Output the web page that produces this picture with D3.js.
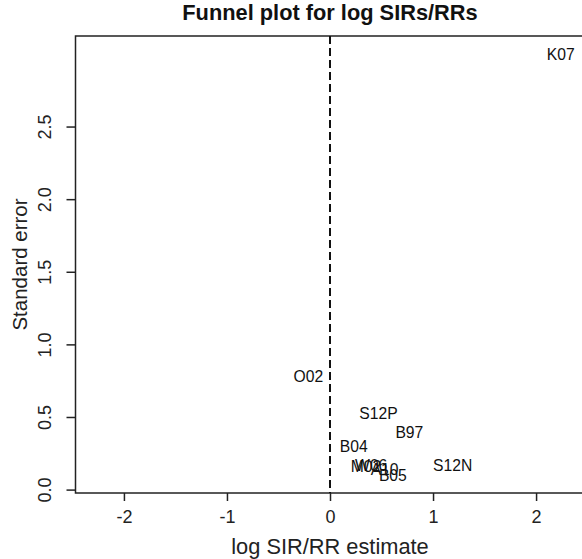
<!DOCTYPE html>
<html>
<head>
<meta charset="utf-8">
<script src="https://cdn.jsdelivr.net/npm/d3@7"></script>
<style>
  html, body { margin: 0; padding: 0; background: #fff; }
  svg { display: block; font-family: "Liberation Sans", Arial, Helvetica, sans-serif; }
</style>
</head>
<body>
<svg id="chart" width="582" height="559"></svg>
<script>
// Study labels with their log SIR/RR estimates and standard errors
const studies   = ["K07", "O02", "S12P", "B97", "B04", "S12N", "M02", "W06", "A10", "B05"];
const estimates = [2.24, -0.21, 0.47, 0.77, 0.23, 1.19, 0.35, 0.40, 0.53, 0.61];
const stdErrors = [3.00, 0.78, 0.53, 0.40, 0.30, 0.17, 0.16, 0.17, 0.14, 0.10];

const xTicks = [-2, -1, 0, 1, 2];
const yTicks = [0, 0.5, 1.0, 1.5, 2.0, 2.5];

const svg = d3.select("#chart");
const margin = { left: 75.5, top: 36, right: -2.5, bottom: 66 };
const W = 582, H = 559;
const x0 = margin.left, x1 = W - margin.right;
const y0 = margin.top, y1 = H - margin.bottom;

const x = d3.scaleLinear().domain([-2.47, 2.47]).range([x0, x1]);
const y = d3.scaleLinear().domain([-0.02, 3.127]).range([y1, y0]);

const data = studies.map((s, i) => ({ label: s, est: estimates[i], se: stdErrors[i] }));

// Plot frame
svg.append("rect")
  .attr("x", x0).attr("y", y0)
  .attr("width", x1 - x0).attr("height", y1 - y0)
  .attr("fill", "none").attr("stroke", "#222").attr("stroke-width", 1.5);

// Reference line at zero effect
svg.append("line")
  .attr("x1", x(0)).attr("x2", x(0))
  .attr("y1", y0).attr("y2", y1)
  .attr("stroke", "#111").attr("stroke-width", 2)
  .attr("stroke-dasharray", "8,4");

// Bottom axis
const xAxis = d3.axisBottom(x).tickValues(xTicks).tickSize(8).tickSizeOuter(0)
  .tickFormat(d3.format("d")).tickPadding(9);
const gx = svg.append("g").attr("transform", `translate(0,${y1})`).call(xAxis);
gx.select(".domain").remove();
gx.selectAll(".tick line").attr("stroke", "#222").attr("stroke-width", 1.5);
gx.selectAll(".tick text").attr("font-size", 18).attr("fill", "#222")
  .attr("font-family", "\"Liberation Sans\", Arial, sans-serif")
  .text(d => d < 0 ? "-" + Math.abs(d) : d);

// Left axis with rotated tick labels
const gy = svg.append("g").attr("transform", `translate(${x0},0)`);
yTicks.forEach(t => {
  gy.append("line")
    .attr("x1", 0).attr("x2", -9)
    .attr("y1", y(t)).attr("y2", y(t))
    .attr("stroke", "#222").attr("stroke-width", 1.5);
  gy.append("text")
    .attr("transform", `translate(-25,${y(t)}) rotate(-90)`)
    .attr("text-anchor", "middle")
    .attr("font-size", 18).attr("fill", "#222")
    .text(d3.format(".1f")(t));
});

// Study labels placed at (estimate, standard error)
svg.append("g").selectAll("text")
  .data(data)
  .join("text")
  .attr("x", d => x(d.est))
  .attr("y", d => y(d.se))
  .attr("dy", "0.35em")
  .attr("text-anchor", "middle")
  .attr("font-size", 15.7)
  .attr("fill", "#111")
  .text(d => d.label);

// Title and axis titles
svg.append("text")
  .attr("x", (x0 + x1) / 2).attr("y", 20)
  .attr("text-anchor", "middle")
  .attr("font-size", 21.8).attr("font-weight", "bold").attr("fill", "#111")
  .text("Funnel plot for log SIRs/RRs");

svg.append("text")
  .attr("x", (x0 + x1) / 2).attr("y", 554)
  .attr("text-anchor", "middle")
  .attr("font-size", 21.8).attr("fill", "#222")
  .text("log SIR/RR estimate");

svg.append("text")
  .attr("transform", `translate(27,${(y0 + y1) / 2}) rotate(-90)`)
  .attr("text-anchor", "middle")
  .attr("font-size", 20.5).attr("fill", "#222")
  .text("Standard error");
</script>
</body>
</html>
